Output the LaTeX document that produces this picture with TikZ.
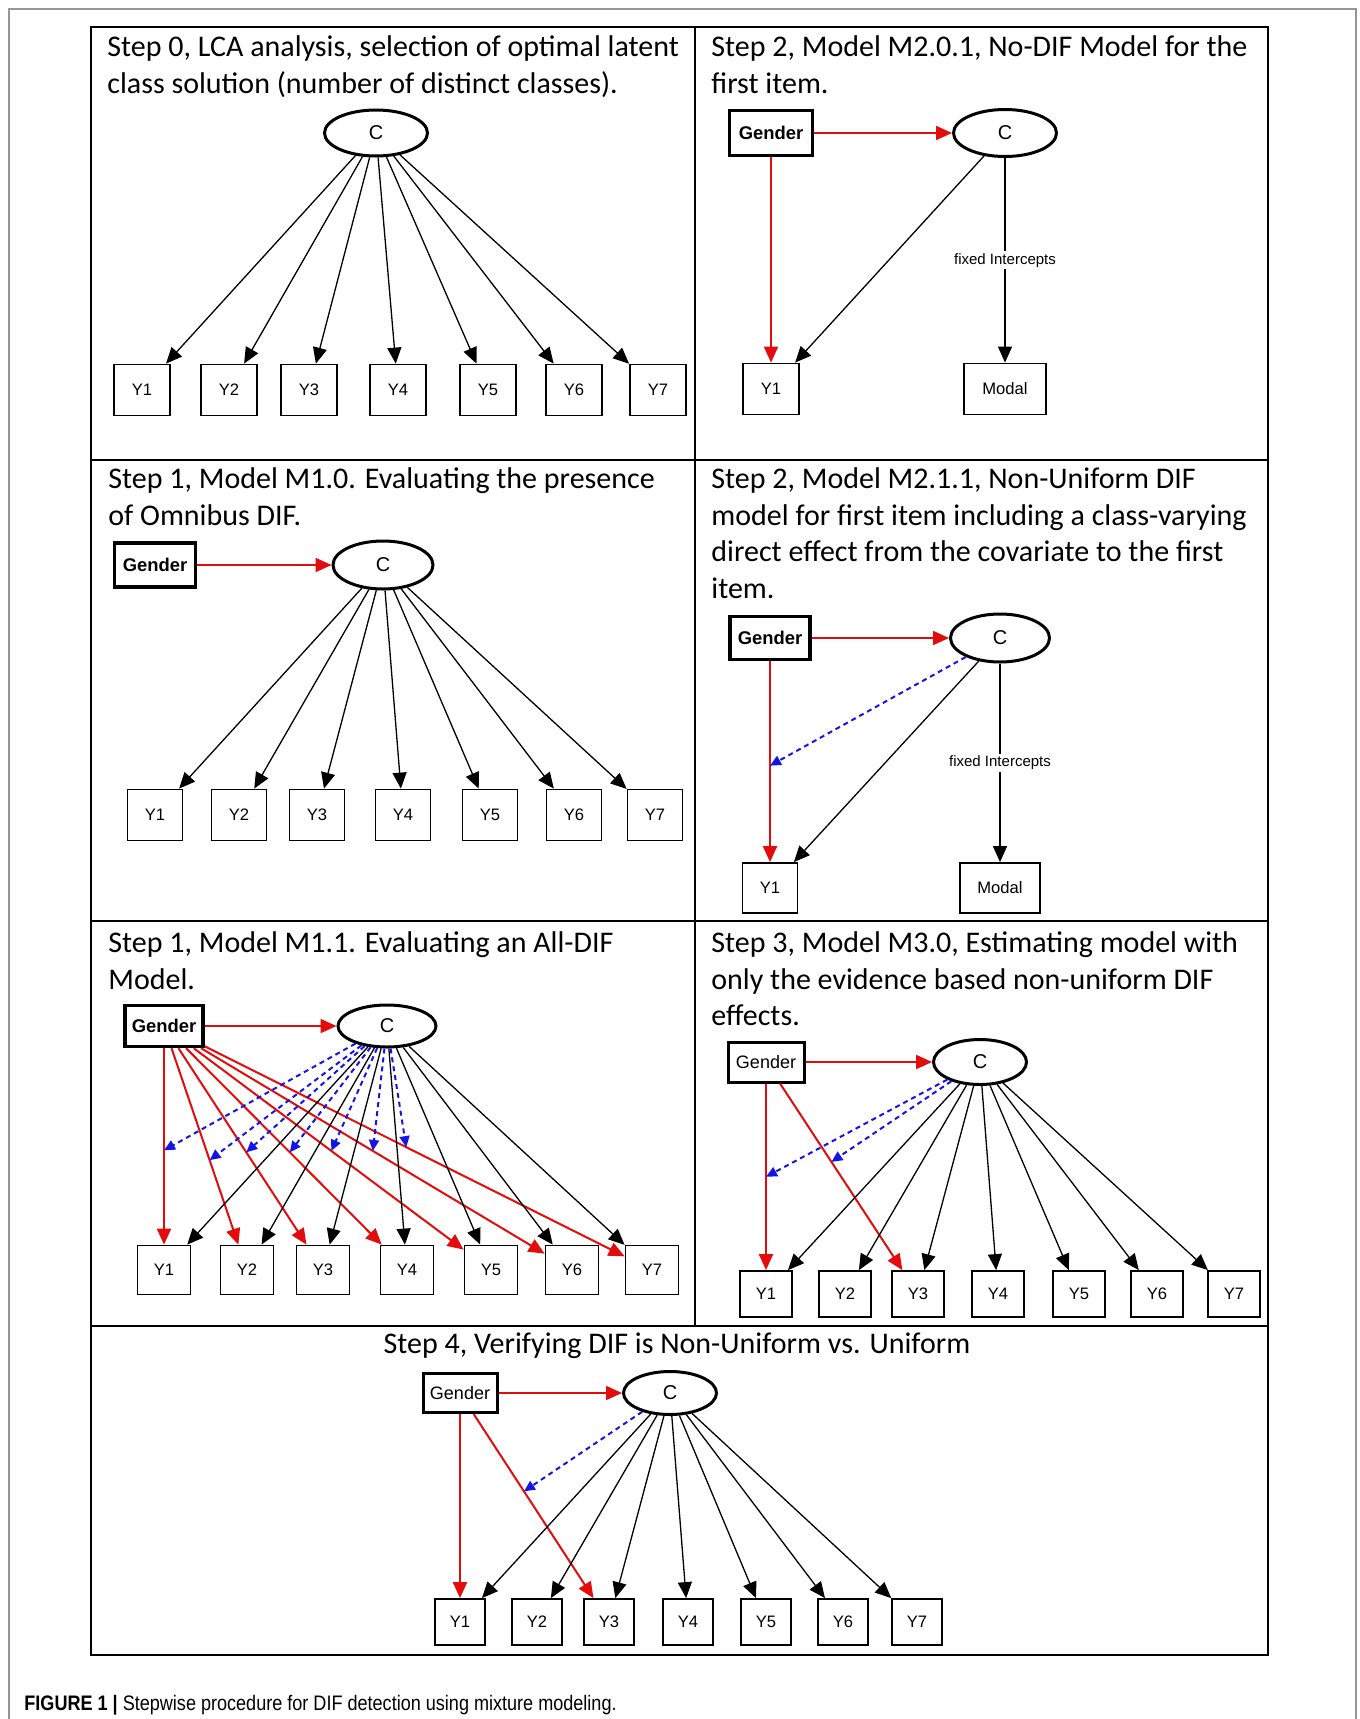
\documentclass[tikz,border=0pt]{standalone}
\usepackage{fontspec}
\setmainfont{Liberation Sans}
\newfontfamily\ttlfont{Carlito}
\newfontfamily\capfont[FakeStretch=0.86]{Liberation Sans}
\usetikzlibrary{arrows.meta,shapes.geometric}
\definecolor{myred}{RGB}{226,12,12}
\definecolor{myblue}{RGB}{20,20,230}
\definecolor{framegray}{RGB}{150,150,150}
\tikzset{
  ttl/.style={font=\ttlfont\fontsize{15}{18.3}\selectfont, align=left, anchor=north west, inner sep=0pt},
  ybox/.style 2 args={draw, line width=0.9pt, inner sep=0pt, minimum width=#1, minimum height=#2, font=\fontsize{8.3}{9}\selectfont},
  gbox/.style n args={3}{draw, line width=1.7pt, inner sep=0pt, minimum width=#1, minimum height=#2, font=#3},
  lat/.style 2 args={ellipse, draw, line width=1.5pt, inner sep=0pt, minimum width=#1, minimum height=#2, font=\fontsize{10}{11}\selectfont},
  blk/.style={draw=black, line width=0.65pt, -{Triangle[length=8pt,width=7pt]}},
  redarr/.style={draw=myred, line width=1pt, -{Triangle[length=8pt,width=7pt]}},
  bluearr/.style={draw=myblue, line width=1pt, dash pattern=on 2.5pt off 2pt, -{Triangle[length=5.5pt,width=5pt]}},
  fixlab/.style={fill=white, inner sep=1pt, font=\fontsize{7.5}{8}\selectfont},
  gridline/.style={line width=1pt}
}
\newcommand{\gbold}{\fontsize{9.2}{11}\selectfont\bfseries}
\newcommand{\greg}{\fontsize{9}{10}\selectfont}
\begin{document}
\begin{tikzpicture}[x=0.5pt,y=-0.5pt]
\useasboundingbox (0,0) rectangle (1360,1719);
% outer frame and grid
\draw[framegray, line width=0.8pt] (9,1719) -- (9,9) -- (1356,9) -- (1356,1719);
\draw[gridline] (91,27) rectangle (1268,1655);
\draw[gridline] (695,27) -- (695,1326);
\draw[gridline] (91,460) -- (1268,460);
\draw[gridline] (91,921) -- (1268,921);
\draw[gridline] (91,1326) -- (1268,1326);

% titles
\node[ttl] (tA) at (107,34) {\rule{0pt}{11pt}Step 0, LCA analysis, selection of optimal latent\\class solution (number of distinct classes).};
\node[ttl] (tB) at (711,34) {\rule{0pt}{11pt}Step 2, Model M2.0.1, No-DIF Model for the\\first item.};
\node[ttl] (tC) at (108,466) {\rule{0pt}{11pt}Step 1, Model M1.0. Evaluating the presence\\of Omnibus DIF.};
\node[ttl] (tD) at (711,466) {\rule{0pt}{11pt}Step 2, Model M2.1.1, Non-Uniform DIF\\model for first item including a class-varying\\direct effect from the covariate to the first\\item.};
\node[ttl] (tE) at (108,930) {\rule{0pt}{11pt}Step 1, Model M1.1. Evaluating an All-DIF\\Model.};
\node[ttl] (tF) at (711,930) {\rule{0pt}{11pt}Step 3, Model M3.0, Estimating model with\\only the evidence based non-uniform DIF\\effects.};
\node[font=\ttlfont\fontsize{15}{18.3}\selectfont, anchor=base, inner sep=0pt] (tG) at (677,1353) {Step 4, Verifying DIF is Non-Uniform vs. Uniform};

% ---------- Panel A ----------
\node[lat={51.5pt}{23pt}] (CA) at (376,133) {C};
\foreach \x [count=\i] in {142,229,309,398,488,574,658}
  \node[ybox={28pt}{25.5pt}] (A\i) at (\x,390) {Y\i};
\foreach \i in {1,...,7} \draw[blk] (CA) -- (A\i);

% ---------- Panel B ----------
\node[gbox={41.5pt}{22.5pt}{\gbold}] (GB) at (771,133) {Gender};
\node[lat={51.5pt}{23.5pt}] (CB) at (1005,133) {C};
\node[ybox={28pt}{25.5pt}] (B1) at (771,389) {Y1};
\node[ybox={41pt}{25.5pt}] (BM) at (1005,389) {Modal};
\draw[redarr] (GB) -- (CB);
\draw[redarr] (GB) -- (B1);
\draw[blk] (CB) -- (B1);
\draw[blk] (CB) -- node[fixlab] {fixed Intercepts} (BM);

% ---------- Panel C ----------
\node[gbox={40.5pt}{22pt}{\gbold}] (GC) at (155,565) {Gender};
\node[lat={50pt}{24pt}] (CC) at (383,565) {C};
\foreach \x [count=\i] in {155,239,317,403,490,574,655}
  \node[ybox={27.5pt}{25.5pt}] (C\i) at (\x,815) {Y\i};
\draw[redarr] (GC) -- (CC);
\foreach \i in {1,...,7} \draw[blk] (CC) -- (C\i);

% ---------- Panel D ----------
\node[gbox={40pt}{21.5pt}{\gbold}] (GD) at (770,638) {Gender};
\node[lat={49.5pt}{24pt}] (CD) at (1000,638) {C};
\node[ybox={27.5pt}{25pt}] (D1) at (770,888) {Y1};
\node[ybox={40pt}{25pt}] (DM) at (1000,888) {Modal};
\draw[redarr] (GD) -- (CD);
\draw[redarr] (GD) -- coordinate[pos=0.52] (rD1) (D1);
\draw[bluearr] (CD) -- (rD1);
\draw[blk] (CD) -- (D1);
\draw[blk] (CD) -- node[fixlab] {fixed Intercepts} (DM);

% ---------- Panel E ----------
\node[gbox={39pt}{20.5pt}{\gbold}] (GE) at (164,1026) {Gender};
\node[lat={49pt}{21pt}] (CE) at (387,1026) {C};
\foreach \x [count=\i] in {164,247,323,407,491,572,652}
  \node[ybox={26.5pt}{24.5pt}] (E\i) at (\x,1270) {Y\i};
\draw[redarr] (GE) -- (CE);
\foreach \i/\p in {1/0.52,2/0.57,3/0.53,4/0.53,5/0.51,6/0.5,7/0.48}
  \draw[redarr] (GE) -- coordinate[pos=\p] (rE\i) (E\i);
\foreach \i in {1,...,7} \draw[bluearr] (CE) -- (rE\i);
\foreach \i in {1,...,7} \draw[blk] (CE) -- (E\i);

% ---------- Panel F ----------
\node[gbox={38pt}{20pt}{\greg}, line width=1.5pt] (GF) at (766,1062) {Gender};
\node[lat={46.5pt}{22.5pt}] (CF) at (980,1062) {C};
\foreach \x [count=\i] in {766,845,918,998,1079,1157,1234}
  \node[ybox={26pt}{23pt}] (F\i) at (\x,1294) {Y\i};
\draw[redarr] (GF) -- (CF);
\draw[redarr] (GF) -- coordinate[pos=0.5] (rF1) (F1);
\draw[redarr] (GF) -- coordinate[pos=0.42] (rF3) (F3);
\draw[bluearr] (CF) -- (rF1);
\draw[bluearr] (CF) -- (rF3);
\foreach \i in {1,...,7} \draw[blk] (CF) -- (F\i);

% ---------- Panel G ----------
\node[gbox={37pt}{19.5pt}{\greg}, line width=1.5pt] (GG) at (460,1393) {Gender};
\node[lat={46.5pt}{21.5pt}] (CG) at (670,1393) {C};
\foreach \x [count=\i] in {460,537,609,688,766,843,917}
  \node[ybox={25pt}{23pt}] (G\i) at (\x,1622) {Y\i};
\draw[redarr] (GG) -- (CG);
\draw[redarr] (GG) -- (G1);
\draw[redarr] (GG) -- coordinate[pos=0.42] (rG3) (G3);
\draw[bluearr] (CG) -- (rG3);
\foreach \i in {1,...,7} \draw[blk] (CG) -- (G\i);

% caption
\node[anchor=base west, inner sep=0pt, font=\capfont\fontsize{10.5}{12}\selectfont] (cap) at (24,1710) {\textbf{FIGURE 1 |} Stepwise procedure for DIF detection using mixture modeling.};
\end{tikzpicture}
\end{document}
